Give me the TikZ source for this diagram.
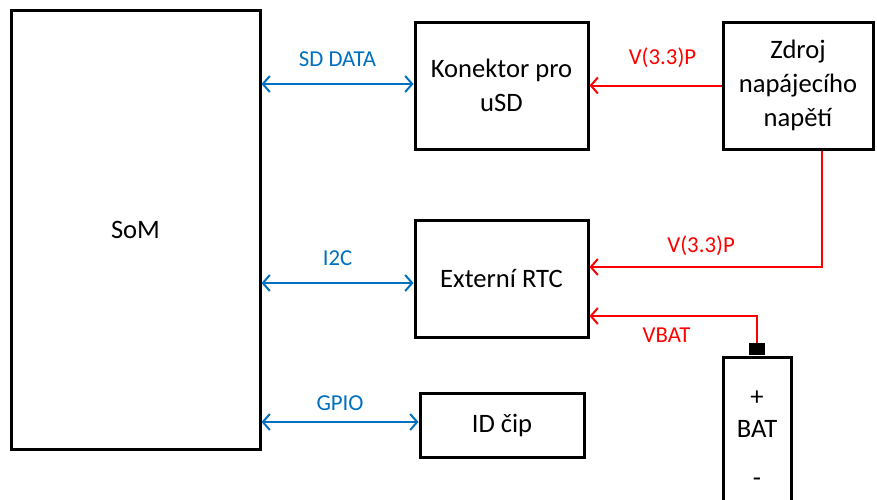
\documentclass[tikz,border=0pt]{standalone}
\usepackage{fontspec}
\setmainfont{Carlito}
\usepackage{tikz}
\usetikzlibrary{arrows.meta,positioning,calc}
\definecolor{busblue}{RGB}{0,112,192}
\definecolor{pwrred}{RGB}{255,0,0}
\tikzset{
  blok/.style={draw=black,line width=1.5pt,fill=white,align=center,
    font=\fontsize{13.3}{17}\selectfont,inner sep=0pt},
  bus/.style={{Straight Barb[length=3.5pt,width=8pt]}-{Straight Barb[length=3.5pt,width=8pt]},
    line width=1pt,color=busblue},
  pwr/.style={-{Straight Barb[length=3.5pt,width=8pt]},line width=1pt,color=pwrred},
  buslabel/.style={font=\fontsize{11.4}{13.5}\selectfont,color=busblue},
  pwrlabel/.style={font=\fontsize{11.4}{13.5}\selectfont,color=pwrred},
}

\begin{document}
\begin{tikzpicture}[x=0.5pt,y=-0.5pt]
\useasboundingbox (0,0) rectangle (877,499);
% bloky
\node[blok,minimum width=124.5pt,minimum height=219.5pt] (som) at (135.5,229.5) {SoM};
\node[blok,minimum width=86.5pt,minimum height=63.5pt] (usd) at (501.5,85.5)
  {Konektor pro\\uSD};
\node[blok,minimum width=86.5pt,minimum height=58.5pt] (rtc) at (501.5,278.5)
  {Externí RTC};
\node[blok,minimum width=82pt,minimum height=32pt] (idcip) at (502,425) {ID čip};
\node[blok,minimum width=75pt,minimum height=63.5pt] (zdroj) at (798,85.5)
  {Zdroj\\napájecího\\napětí};
\node[blok,minimum width=34pt,minimum height=81.5pt] (bat) at (757,438.5)
  {+\\[-1pt]BAT\\[7.5pt]-};
\node[fill=black,inner sep=0pt,minimum width=8pt,minimum height=6pt,anchor=south]
  (batpin) at (bat.north) {};
% sbernice
\draw[bus] (som.east |- 0,84) -- (usd.west |- 0,84)
  node[midway,above=5pt,buslabel]{SD DATA};
\draw[bus] (som.east |- 0,283) -- (rtc.west |- 0,283)
  node[midway,above=5pt,buslabel]{I2C};
\draw[bus] (som.east |- 0,422) -- (idcip.west |- 0,422)
  node[midway,above=2pt,buslabel]{GPIO};
% napajeni
\draw[pwr] (zdroj.west) -- (usd.east)
  node[midway,above=5pt,xshift=3.5pt,pwrlabel]{V(3.3)P};
\draw[pwr] (zdroj.south -| 822,0) |- (rtc.east |- 0,267)
  node[pos=0.76,above=2pt,pwrlabel]{V(3.3)P};
\draw[pwr] (batpin.north) |- (rtc.east |- 0,316)
  node[pos=0.77,below=2pt,pwrlabel]{VBAT};
\end{tikzpicture}
\end{document}
